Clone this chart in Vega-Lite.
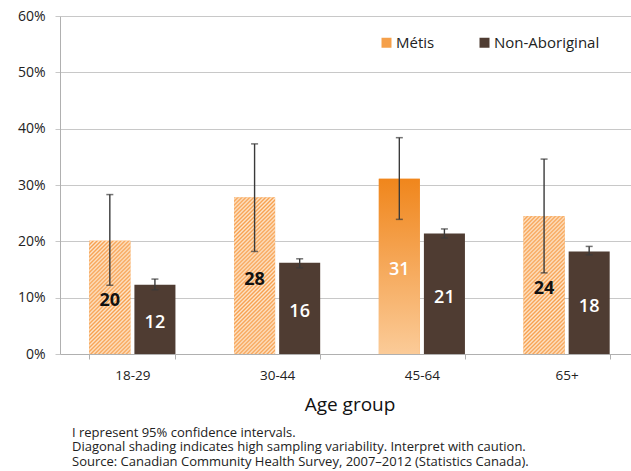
{
"$schema": "https://vega.github.io/schema/vega-lite/v6.json",
"width": 571, "height": 338,
"autosize": {"type": "none"},
"padding": {"left": 60, "top": 16, "right": 0, "bottom": 117},
"background": "white",
"config": {"font": "Open Sans", "view": {"stroke": null}},
"title": {"text": ["I represent 95% confidence intervals.", "Diagonal shading indicates high sampling variability. Interpret with caution.", "Source: Canadian Community Health Survey, 2007–2012 (Statistics Canada)."], "orient": "bottom", "anchor": "start", "frame": "group", "fontSize": 13, "fontWeight": "normal", "lineHeight": 14.5, "color": "#222", "dx": 12, "offset": 12},
"data": {"values": [
{"age": "18-29", "group": "Métis", "value": 20.1, "lo": 12.2, "hi": 28.3, "quality": "E"},
{"age": "18-29", "group": "Non-Aboriginal", "value": 12.3, "lo": 11.4, "hi": 13.3, "quality": "A"},
{"age": "30-44", "group": "Métis", "value": 27.8, "lo": 18.2, "hi": 37.3, "quality": "E"},
{"age": "30-44", "group": "Non-Aboriginal", "value": 16.2, "lo": 15.3, "hi": 16.9, "quality": "A"},
{"age": "45-64", "group": "Métis", "value": 31.1, "lo": 23.9, "hi": 38.4, "quality": "A"},
{"age": "45-64", "group": "Non-Aboriginal", "value": 21.4, "lo": 20.6, "hi": 22.2, "quality": "A"},
{"age": "65+", "group": "Métis", "value": 24.45, "lo": 14.4, "hi": 34.6, "quality": "E"},
{"age": "65+", "group": "Non-Aboriginal", "value": 18.2, "lo": 17.6, "hi": 19.1, "quality": "A"}
]},
"transform": [{"calculate": "datum.value / 2", "as": "mid"}],
"encoding": {
"x": {"field": "age", "type": "nominal", "sort": ["18-29", "30-44", "45-64", "65+"], "scale": {"range": [0, 579], "paddingInner": 0.405, "paddingOuter": 0.2025}, "axis": {"title": "Age group", "labelAngle": 0, "labelFontSize": 13.5, "labelColor": "#222", "labelPadding": 9, "tickBand": "extent", "tickSize": 5, "tickColor": "#b0b0b0", "domainColor": "#b0b0b0", "titleFontSize": 19, "titleFontWeight": "normal", "titleColor": "#111", "titlePadding": 14}},
"xOffset": {"field": "group", "type": "nominal", "scale": {"domain": ["Métis", "Non-Aboriginal"], "paddingInner": 0.09, "paddingOuter": 0}}
},
"layer": [
{"mark": {"type": "bar"},
 "encoding": {
  "y": {"field": "value", "type": "quantitative", "title": null, "scale": {"domain": [0, 60]}, "axis": {"values": [0, 10, 20, 30, 40, 50, 60], "labelExpr": "datum.value + '%'", "grid": true, "gridColor": "#c8c8c8", "tickColor": "#c8c8c8", "tickSize": 5, "domainColor": "#b0b0b0", "labelFontSize": 14, "labelColor": "#222", "labelPadding": 10}},
  "color": {"field": "group", "type": "nominal", "scale": {"domain": ["Métis", "Non-Aboriginal"], "range": ["#f5a04a", "#4f3c32"]}, "legend": {"orient": "none", "legendX": 319, "legendY": 19, "direction": "horizontal", "title": null, "symbolType": "square", "symbolSize": 100, "symbolStrokeWidth": 0, "labelFontSize": 15, "labelColor": "#222", "labelOffset": 2, "columnPadding": 42, "padding": 0}}
 }},
{"transform": [{"filter": "datum.group == 'Métis' && datum.quality == 'A'"}],
 "mark": {"type": "bar", "fill": {"gradient": "linear", "x1": 0, "y1": 0, "x2": 0, "y2": 1, "stops": [{"offset": 0, "color": "#f0861c"}, {"offset": 1, "color": "#fbcb98"}]}},
 "encoding": {"y": {"field": "value", "type": "quantitative", "title": null}}},
{"transform": [{"filter": "datum.group == 'Métis' && datum.age == '18-29'"}],
 "mark": {"type": "bar", "fill": {"gradient": "linear", "x1": 0, "y1": 0, "x2": 0.4362, "y2": 1.2042, "stops": [
{"offset":0,"color":"#f7a04f"},{"offset":0.0128,"color":"#fde6cc"},{"offset":0.0256,"color":"#f7a04f"},{"offset":0.0385,"color":"#fde6cc"},{"offset":0.0513,"color":"#f7a04f"},{"offset":0.0641,"color":"#fde6cc"},{"offset":0.0769,"color":"#f7a04f"},{"offset":0.0897,"color":"#fde6cc"},{"offset":0.1026,"color":"#f7a04f"},{"offset":0.1154,"color":"#fde6cc"},{"offset":0.1282,"color":"#f7a04f"},{"offset":0.1410,"color":"#fde6cc"},{"offset":0.1538,"color":"#f7a04f"},{"offset":0.1667,"color":"#fde6cc"},{"offset":0.1795,"color":"#f7a04f"},{"offset":0.1923,"color":"#fde6cc"},{"offset":0.2051,"color":"#f7a04f"},{"offset":0.2179,"color":"#fde6cc"},{"offset":0.2308,"color":"#f7a04f"},{"offset":0.2436,"color":"#fde6cc"},{"offset":0.2564,"color":"#f7a04f"},{"offset":0.2692,"color":"#fde6cc"},{"offset":0.2821,"color":"#f7a04f"},{"offset":0.2949,"color":"#fde6cc"},{"offset":0.3077,"color":"#f7a04f"},{"offset":0.3205,"color":"#fde6cc"},{"offset":0.3333,"color":"#f7a04f"},{"offset":0.3462,"color":"#fde6cc"},{"offset":0.3590,"color":"#f7a04f"},{"offset":0.3718,"color":"#fde6cc"},{"offset":0.3846,"color":"#f7a04f"},{"offset":0.3974,"color":"#fde6cc"},{"offset":0.4103,"color":"#f7a04f"},{"offset":0.4231,"color":"#fde6cc"},{"offset":0.4359,"color":"#f7a04f"},{"offset":0.4487,"color":"#fde6cc"},{"offset":0.4615,"color":"#f7a04f"},{"offset":0.4744,"color":"#fde6cc"},{"offset":0.4872,"color":"#f7a04f"},{"offset":0.5,"color":"#fde6cc"},{"offset":0.5128,"color":"#f7a04f"},{"offset":0.5256,"color":"#fde6cc"},{"offset":0.5385,"color":"#f7a04f"},{"offset":0.5513,"color":"#fde6cc"},{"offset":0.5641,"color":"#f7a04f"},{"offset":0.5769,"color":"#fde6cc"},{"offset":0.5897,"color":"#f7a04f"},{"offset":0.6026,"color":"#fde6cc"},{"offset":0.6154,"color":"#f7a04f"},{"offset":0.6282,"color":"#fde6cc"},{"offset":0.6410,"color":"#f7a04f"},{"offset":0.6538,"color":"#fde6cc"},{"offset":0.6667,"color":"#f7a04f"},{"offset":0.6795,"color":"#fde6cc"},{"offset":0.6923,"color":"#f7a04f"},{"offset":0.7051,"color":"#fde6cc"},{"offset":0.7179,"color":"#f7a04f"},{"offset":0.7308,"color":"#fde6cc"},{"offset":0.7436,"color":"#f7a04f"},{"offset":0.7564,"color":"#fde6cc"},{"offset":0.7692,"color":"#f7a04f"},{"offset":0.7821,"color":"#fde6cc"},{"offset":0.7949,"color":"#f7a04f"},{"offset":0.8077,"color":"#fde6cc"},{"offset":0.8205,"color":"#f7a04f"},{"offset":0.8333,"color":"#fde6cc"},{"offset":0.8462,"color":"#f7a04f"},{"offset":0.8590,"color":"#fde6cc"},{"offset":0.8718,"color":"#f7a04f"},{"offset":0.8846,"color":"#fde6cc"},{"offset":0.8974,"color":"#f7a04f"},{"offset":0.9103,"color":"#fde6cc"},{"offset":0.9231,"color":"#f7a04f"},{"offset":0.9359,"color":"#fde6cc"},{"offset":0.9487,"color":"#f7a04f"},{"offset":0.9615,"color":"#fde6cc"},{"offset":0.9744,"color":"#f7a04f"},{"offset":0.9872,"color":"#fde6cc"},{"offset":1,"color":"#f7a04f"}
 ]}},
 "encoding": {"y": {"field": "value", "type": "quantitative", "title": null}}},
{"transform": [{"filter": "datum.group == 'Métis' && datum.age == '30-44'"}],
 "mark": {"type": "bar", "fill": {"gradient": "linear", "x1": 0, "y1": 0, "x2": 0.3092, "y2": 1.1809, "stops": [
{"offset":0,"color":"#f7a04f"},{"offset":0.01,"color":"#fde6cc"},{"offset":0.02,"color":"#f7a04f"},{"offset":0.03,"color":"#fde6cc"},{"offset":0.04,"color":"#f7a04f"},{"offset":0.05,"color":"#fde6cc"},{"offset":0.06,"color":"#f7a04f"},{"offset":0.07,"color":"#fde6cc"},{"offset":0.08,"color":"#f7a04f"},{"offset":0.09,"color":"#fde6cc"},{"offset":0.10,"color":"#f7a04f"},{"offset":0.11,"color":"#fde6cc"},{"offset":0.12,"color":"#f7a04f"},{"offset":0.13,"color":"#fde6cc"},{"offset":0.14,"color":"#f7a04f"},{"offset":0.15,"color":"#fde6cc"},{"offset":0.16,"color":"#f7a04f"},{"offset":0.17,"color":"#fde6cc"},{"offset":0.18,"color":"#f7a04f"},{"offset":0.19,"color":"#fde6cc"},{"offset":0.20,"color":"#f7a04f"},{"offset":0.21,"color":"#fde6cc"},{"offset":0.22,"color":"#f7a04f"},{"offset":0.23,"color":"#fde6cc"},{"offset":0.24,"color":"#f7a04f"},{"offset":0.25,"color":"#fde6cc"},{"offset":0.26,"color":"#f7a04f"},{"offset":0.27,"color":"#fde6cc"},{"offset":0.28,"color":"#f7a04f"},{"offset":0.29,"color":"#fde6cc"},{"offset":0.30,"color":"#f7a04f"},{"offset":0.31,"color":"#fde6cc"},{"offset":0.32,"color":"#f7a04f"},{"offset":0.33,"color":"#fde6cc"},{"offset":0.34,"color":"#f7a04f"},{"offset":0.35,"color":"#fde6cc"},{"offset":0.36,"color":"#f7a04f"},{"offset":0.37,"color":"#fde6cc"},{"offset":0.38,"color":"#f7a04f"},{"offset":0.39,"color":"#fde6cc"},{"offset":0.40,"color":"#f7a04f"},{"offset":0.41,"color":"#fde6cc"},{"offset":0.42,"color":"#f7a04f"},{"offset":0.43,"color":"#fde6cc"},{"offset":0.44,"color":"#f7a04f"},{"offset":0.45,"color":"#fde6cc"},{"offset":0.46,"color":"#f7a04f"},{"offset":0.47,"color":"#fde6cc"},{"offset":0.48,"color":"#f7a04f"},{"offset":0.49,"color":"#fde6cc"},{"offset":0.50,"color":"#f7a04f"},{"offset":0.51,"color":"#fde6cc"},{"offset":0.52,"color":"#f7a04f"},{"offset":0.53,"color":"#fde6cc"},{"offset":0.54,"color":"#f7a04f"},{"offset":0.55,"color":"#fde6cc"},{"offset":0.56,"color":"#f7a04f"},{"offset":0.57,"color":"#fde6cc"},{"offset":0.58,"color":"#f7a04f"},{"offset":0.59,"color":"#fde6cc"},{"offset":0.60,"color":"#f7a04f"},{"offset":0.61,"color":"#fde6cc"},{"offset":0.62,"color":"#f7a04f"},{"offset":0.63,"color":"#fde6cc"},{"offset":0.64,"color":"#f7a04f"},{"offset":0.65,"color":"#fde6cc"},{"offset":0.66,"color":"#f7a04f"},{"offset":0.67,"color":"#fde6cc"},{"offset":0.68,"color":"#f7a04f"},{"offset":0.69,"color":"#fde6cc"},{"offset":0.70,"color":"#f7a04f"},{"offset":0.71,"color":"#fde6cc"},{"offset":0.72,"color":"#f7a04f"},{"offset":0.73,"color":"#fde6cc"},{"offset":0.74,"color":"#f7a04f"},{"offset":0.75,"color":"#fde6cc"},{"offset":0.76,"color":"#f7a04f"},{"offset":0.77,"color":"#fde6cc"},{"offset":0.78,"color":"#f7a04f"},{"offset":0.79,"color":"#fde6cc"},{"offset":0.80,"color":"#f7a04f"},{"offset":0.81,"color":"#fde6cc"},{"offset":0.82,"color":"#f7a04f"},{"offset":0.83,"color":"#fde6cc"},{"offset":0.84,"color":"#f7a04f"},{"offset":0.85,"color":"#fde6cc"},{"offset":0.86,"color":"#f7a04f"},{"offset":0.87,"color":"#fde6cc"},{"offset":0.88,"color":"#f7a04f"},{"offset":0.89,"color":"#fde6cc"},{"offset":0.90,"color":"#f7a04f"},{"offset":0.91,"color":"#fde6cc"},{"offset":0.92,"color":"#f7a04f"},{"offset":0.93,"color":"#fde6cc"},{"offset":0.94,"color":"#f7a04f"},{"offset":0.95,"color":"#fde6cc"},{"offset":0.96,"color":"#f7a04f"},{"offset":0.97,"color":"#fde6cc"},{"offset":0.98,"color":"#f7a04f"},{"offset":0.99,"color":"#fde6cc"},{"offset":1,"color":"#f7a04f"}
 ]}},
 "encoding": {"y": {"field": "value", "type": "quantitative", "title": null}}},
{"transform": [{"filter": "datum.group == 'Métis' && datum.age == '65+'"}],
 "mark": {"type": "bar", "fill": {"gradient": "linear", "x1": 0, "y1": 0, "x2": 0.3549, "y2": 1.1921, "stops": [
{"offset":0,"color":"#f7a04f"},{"offset":0.0111,"color":"#fde6cc"},{"offset":0.0222,"color":"#f7a04f"},{"offset":0.0333,"color":"#fde6cc"},{"offset":0.0444,"color":"#f7a04f"},{"offset":0.0556,"color":"#fde6cc"},{"offset":0.0667,"color":"#f7a04f"},{"offset":0.0778,"color":"#fde6cc"},{"offset":0.0889,"color":"#f7a04f"},{"offset":0.1,"color":"#fde6cc"},{"offset":0.1111,"color":"#f7a04f"},{"offset":0.1222,"color":"#fde6cc"},{"offset":0.1333,"color":"#f7a04f"},{"offset":0.1444,"color":"#fde6cc"},{"offset":0.1556,"color":"#f7a04f"},{"offset":0.1667,"color":"#fde6cc"},{"offset":0.1778,"color":"#f7a04f"},{"offset":0.1889,"color":"#fde6cc"},{"offset":0.2,"color":"#f7a04f"},{"offset":0.2111,"color":"#fde6cc"},{"offset":0.2222,"color":"#f7a04f"},{"offset":0.2333,"color":"#fde6cc"},{"offset":0.2444,"color":"#f7a04f"},{"offset":0.2556,"color":"#fde6cc"},{"offset":0.2667,"color":"#f7a04f"},{"offset":0.2778,"color":"#fde6cc"},{"offset":0.2889,"color":"#f7a04f"},{"offset":0.3,"color":"#fde6cc"},{"offset":0.3111,"color":"#f7a04f"},{"offset":0.3222,"color":"#fde6cc"},{"offset":0.3333,"color":"#f7a04f"},{"offset":0.3444,"color":"#fde6cc"},{"offset":0.3556,"color":"#f7a04f"},{"offset":0.3667,"color":"#fde6cc"},{"offset":0.3778,"color":"#f7a04f"},{"offset":0.3889,"color":"#fde6cc"},{"offset":0.4,"color":"#f7a04f"},{"offset":0.4111,"color":"#fde6cc"},{"offset":0.4222,"color":"#f7a04f"},{"offset":0.4333,"color":"#fde6cc"},{"offset":0.4444,"color":"#f7a04f"},{"offset":0.4556,"color":"#fde6cc"},{"offset":0.4667,"color":"#f7a04f"},{"offset":0.4778,"color":"#fde6cc"},{"offset":0.4889,"color":"#f7a04f"},{"offset":0.5,"color":"#fde6cc"},{"offset":0.5111,"color":"#f7a04f"},{"offset":0.5222,"color":"#fde6cc"},{"offset":0.5333,"color":"#f7a04f"},{"offset":0.5444,"color":"#fde6cc"},{"offset":0.5556,"color":"#f7a04f"},{"offset":0.5667,"color":"#fde6cc"},{"offset":0.5778,"color":"#f7a04f"},{"offset":0.5889,"color":"#fde6cc"},{"offset":0.6,"color":"#f7a04f"},{"offset":0.6111,"color":"#fde6cc"},{"offset":0.6222,"color":"#f7a04f"},{"offset":0.6333,"color":"#fde6cc"},{"offset":0.6444,"color":"#f7a04f"},{"offset":0.6556,"color":"#fde6cc"},{"offset":0.6667,"color":"#f7a04f"},{"offset":0.6778,"color":"#fde6cc"},{"offset":0.6889,"color":"#f7a04f"},{"offset":0.7,"color":"#fde6cc"},{"offset":0.7111,"color":"#f7a04f"},{"offset":0.7222,"color":"#fde6cc"},{"offset":0.7333,"color":"#f7a04f"},{"offset":0.7444,"color":"#fde6cc"},{"offset":0.7556,"color":"#f7a04f"},{"offset":0.7667,"color":"#fde6cc"},{"offset":0.7778,"color":"#f7a04f"},{"offset":0.7889,"color":"#fde6cc"},{"offset":0.8,"color":"#f7a04f"},{"offset":0.8111,"color":"#fde6cc"},{"offset":0.8222,"color":"#f7a04f"},{"offset":0.8333,"color":"#fde6cc"},{"offset":0.8444,"color":"#f7a04f"},{"offset":0.8556,"color":"#fde6cc"},{"offset":0.8667,"color":"#f7a04f"},{"offset":0.8778,"color":"#fde6cc"},{"offset":0.8889,"color":"#f7a04f"},{"offset":0.9,"color":"#fde6cc"},{"offset":0.9111,"color":"#f7a04f"},{"offset":0.9222,"color":"#fde6cc"},{"offset":0.9333,"color":"#f7a04f"},{"offset":0.9444,"color":"#fde6cc"},{"offset":0.9556,"color":"#f7a04f"},{"offset":0.9667,"color":"#fde6cc"},{"offset":0.9778,"color":"#f7a04f"},{"offset":0.9889,"color":"#fde6cc"},{"offset":1,"color":"#f7a04f"}
 ]}},
 "encoding": {"y": {"field": "value", "type": "quantitative", "title": null}}},
{"mark": {"type": "rule", "color": "#3a3a3a", "strokeWidth": 1.4},
 "encoding": {"y": {"field": "lo", "type": "quantitative", "title": null}, "y2": {"field": "hi"}}},
{"mark": {"type": "tick", "color": "#3a3a3a", "size": 7, "thickness": 1.5},
 "encoding": {"y": {"field": "lo", "type": "quantitative", "title": null}}},
{"mark": {"type": "tick", "color": "#3a3a3a", "size": 7, "thickness": 1.5},
 "encoding": {"y": {"field": "hi", "type": "quantitative", "title": null}}},
{"transform": [{"filter": "datum.quality == 'E'"}],
 "mark": {"type": "text", "fontSize": 18, "fontWeight": "bold", "color": "#111", "baseline": "middle", "dy": 4},
 "encoding": {"y": {"field": "mid", "type": "quantitative", "title": null}, "text": {"field": "value", "type": "quantitative", "format": ".0f"}}},
{"transform": [{"filter": "datum.quality == 'A'"}],
 "mark": {"type": "text", "fontSize": 18, "fontWeight": 600, "color": "#ffffff", "baseline": "middle", "dy": 4},
 "encoding": {"y": {"field": "mid", "type": "quantitative", "title": null}, "text": {"field": "value", "type": "quantitative", "format": ".0f"}}}
]
}
